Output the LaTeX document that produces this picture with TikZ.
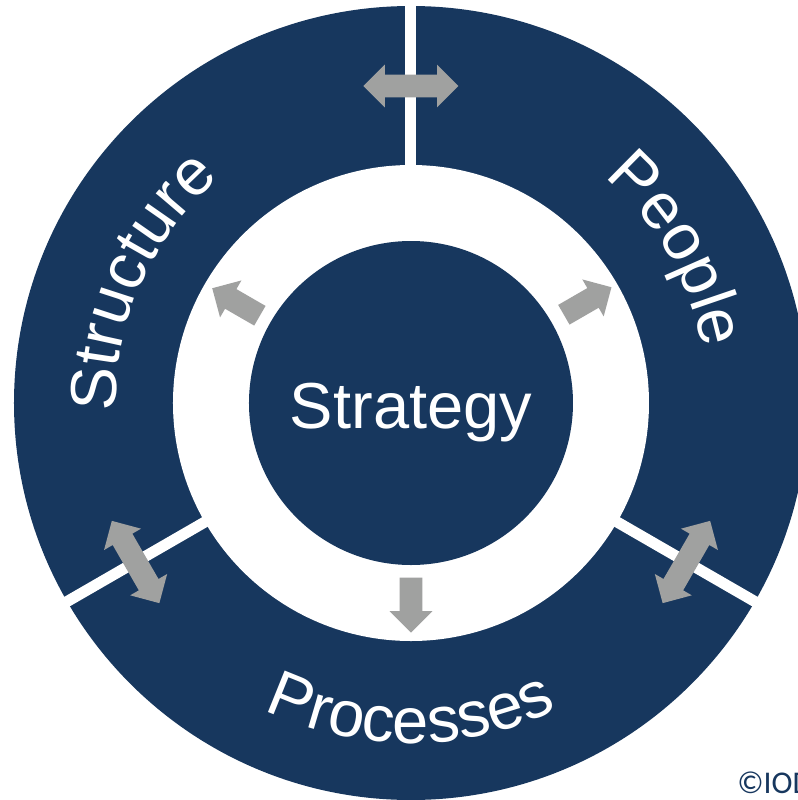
\documentclass[tikz,border=0pt]{standalone}
\usepackage{fontspec}
\setmainfont{Liberation Sans}
\newfontfamily\iodfont{Carlito}
\usepackage{tikz}
\usetikzlibrary{shapes.arrows,decorations.text}

\definecolor{ringblue}{RGB}{23,55,94}
\definecolor{arrowgray}{RGB}{160,161,160}
\newcommand{\ringfont}{\fontsize{37}{44}\selectfont}

\begin{document}
\begin{tikzpicture}[scale=0.2,
    onearrow/.style={single arrow,fill=arrowgray,inner sep=2.2mm,
      single arrow head extend=2mm,minimum height=11mm,anchor=tip},
    twoarrow/.style={double arrow,fill=arrowgray,inner sep=2.2mm,
      double arrow head extend=2mm,minimum height=19mm},
    ringtext/.style={decorate,decoration={text along path,text align=center,
      text color=white,text={|\ringfont|#1}}}]
  \useasboundingbox (-41.1,-39.7) rectangle (38.7,40.3);
  \clip (-41.1,-39.7) rectangle (38.7,40.3);
  % ring, gap and core
  \fill[ringblue] (0,0) circle (39.7);
  \fill[white] (0,0) circle (23.8);
  \node[circle,fill=ringblue,inner sep=0,minimum size=64.8mm] (core) at (0,0) {};
  \node[text=white,font=\ringfont,anchor=base] (strategy) at (0,-2.5) {Strategy};
  \foreach \a in {90,210,330}
    \draw[white,line width=2.2mm] (\a:23) -- (\a:41);
  % labels on the ring
  \path[ringtext=Structure] (211:29.5) arc[start angle=211,end angle=101,radius=29.5];
  \path[ringtext=People] (85:29.7) arc[start angle=85,end angle=-25,radius=29.7];
  \path[ringtext=Processes] (200:34) arc[start angle=200,end angle=340,radius=34];
  % arrows
  \node[onearrow,rotate=150] (toStructure) at (150:23) {};
  \node[onearrow,rotate=30] (toPeople) at (30:23.2) {};
  \node[onearrow,rotate=-90] (toProcesses) at (-90:23) {};
  \node[twoarrow] (structurePeople) at (90:31.7) {};
  \node[twoarrow,rotate=120] (structureProcesses) at (210:31.8) {};
  \node[twoarrow,rotate=60] (peopleProcesses) at (330:31.8) {};
  \node[anchor=base west,text=ringblue,font=\iodfont\fontsize{18}{22}\selectfont,
    inner sep=0] (iod) at (32.6,-39.0) {©IOD};
\end{tikzpicture}
\end{document}
